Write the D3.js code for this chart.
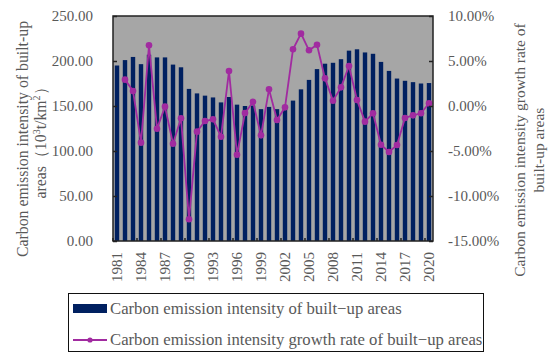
<!DOCTYPE html>
<html>
<head>
<meta charset="utf-8">
<script src="https://cdn.jsdelivr.net/npm/d3@7"></script>
<style>
    body { margin: 0; background: #fff; }
    text { font-family: "Liberation Serif", "Times New Roman", serif; fill: #595959; }
</style>
</head>
<body>
<div id="chart"></div>
<script>
const years = ["1981", "1982", "1983", "1984", "1985", "1986", "1987", "1988", "1989", "1990",
    "1991", "1992", "1993", "1994", "1995", "1996", "1997", "1998", "1999", "2000",
    "2001", "2002", "2003", "2004", "2005", "2006", "2007", "2008", "2009", "2010",
    "2011", "2012", "2013", "2014", "2015", "2016", "2017", "2018", "2019", "2020"];

// carbon emission intensity (10^3 t/km2)
const intensity = [195, 201, 204.5, 196.5, 207, 204, 204, 196, 193, 169,
    164, 161.5, 159.5, 154, 160, 151.5, 150, 150.5, 146.5, 149,
    146.5, 150, 156, 168.5, 179, 191, 197, 198, 202, 211.5,
    213, 209.5, 208, 199, 189, 180.5, 178, 176.5, 175, 175.5];

// growth rate (%), no value for the first year
const growth = [null, 2.93, 1.67, -4.07, 6.74, -2.52, -0.07, -4.19, -1.37, -12.59,
    -2.85, -1.67, -1.48, -3.41, 3.89, -5.41, -0.78, 0.46, -3.26, 1.85,
    -1.56, -0.15, 6.30, 8.04, 6.19, 6.81, 3.07, 0.59, 2.07, 4.44,
    0.67, -1.74, -0.81, -4.30, -5.11, -4.33, -1.33, -1.04, -0.81, 0.30];

const xTickYears = ["1981", "1984", "1987", "1990", "1993", "1996", "1999",
    "2002", "2005", "2008", "2011", "2014", "2017", "2020"];
const leftTicks = [0, 50, 100, 150, 200, 250];
const rightTicks = [-15, -10, -5, 0, 5, 10];

const barColor = "#002060";
const lineColor = "#a12ba0";

const margin = { top: 16, right: 117, bottom: 121, left: 113 };
const width = 550 - margin.left - margin.right;
const height = 362 - margin.top - margin.bottom;

const root = d3.select("#chart")
    .append("svg")
    .attr("width", 550)
    .attr("height", 362);

const svg = root.append("g")
    .attr("transform", `translate(${margin.left},${margin.top})`);

const x = d3.scaleBand()
    .domain(years)
    .range([0, width])
    .paddingInner(0.45)
    .paddingOuter(0.225);

const y = d3.scaleLinear().domain([0, 250]).range([height, 0]);
const y2 = d3.scaleLinear().domain([-15, 10]).range([height, 0]);

svg.append("rect")
    .attr("width", width)
    .attr("height", height)
    .attr("fill", "#a6a6a6");

svg.selectAll(".bar")
    .data(years)
    .enter()
    .append("rect")
    .attr("class", "bar")
    .attr("x", d => x(d))
    .attr("y", (d, i) => y(intensity[i]))
    .attr("width", x.bandwidth())
    .attr("height", (d, i) => height - y(intensity[i]))
    .attr("fill", barColor);

const pts = years.map((d, i) => ({ year: d, v: growth[i] })).filter(d => d.v !== null);

const line = d3.line()
    .x(d => x(d.year) + x.bandwidth() / 2)
    .y(d => y2(d.v));

svg.append("path")
    .datum(pts)
    .attr("d", line)
    .attr("fill", "none")
    .attr("stroke", lineColor)
    .attr("stroke-width", 1.8);

svg.selectAll(".dot")
    .data(pts)
    .enter()
    .append("circle")
    .attr("class", "dot")
    .attr("cx", d => x(d.year) + x.bandwidth() / 2)
    .attr("cy", d => y2(d.v))
    .attr("r", 3.3)
    .attr("fill", lineColor);

// left axis, ticks inside
const yAxis = svg.append("g")
    .call(d3.axisRight(y).tickValues(leftTicks).tickSize(4).tickFormat(""));
yAxis.selectAll("text").remove();
svg.selectAll(".ytl")
    .data(leftTicks)
    .enter()
    .append("text")
    .attr("class", "ytl")
    .attr("x", -20)
    .attr("y", d => y(d))
    .attr("dy", "0.35em")
    .attr("text-anchor", "end")
    .style("font-size", "15px")
    .text(d => d.toFixed(2));

// right axis, ticks inside
svg.append("g")
    .attr("transform", `translate(${width},0)`)
    .call(d3.axisLeft(y2).tickValues(rightTicks).tickSize(4).tickFormat(""));
svg.selectAll(".y2tl")
    .data(rightTicks)
    .enter()
    .append("text")
    .attr("class", "y2tl")
    .attr("x", width + 15)
    .attr("y", d => y2(d))
    .attr("dy", "0.35em")
    .attr("text-anchor", "start")
    .style("font-size", "15px")
    .text(d => d.toFixed(2) + "%");

// bottom ticks every third category boundary
const step = x.step();
const boundaries = d3.range(0, years.length, 3);
svg.selectAll(".xtick")
    .data(boundaries)
    .enter()
    .append("line")
    .attr("class", "xtick")
    .attr("x1", d => d * step)
    .attr("x2", d => d * step)
    .attr("y1", height)
    .attr("y2", height - 3)
    .attr("stroke", "#222")
    .attr("stroke-width", 1.5);

svg.selectAll(".xtl")
    .data(xTickYears)
    .enter()
    .append("text")
    .attr("class", "xtl")
    .attr("transform", d => `translate(${x(d) + x.bandwidth() / 2},${height + 11}) rotate(-90)`)
    .attr("dy", "0.35em")
    .attr("text-anchor", "end")
    .style("font-size", "15px")
    .text(d => d);

svg.selectAll(".domain, .tick line")
    .attr("stroke", "#222")
    .attr("stroke-width", 1.5);
svg.selectAll(".domain").remove();

// frame
svg.append("rect")
    .attr("width", width)
    .attr("height", height)
    .attr("fill", "none")
    .attr("stroke", "#222")
    .attr("stroke-width", 1.5);

// axis titles
const leftTitle = root.append("text")
    .attr("transform", "translate(0,139) rotate(-90)")
    .attr("text-anchor", "middle")
    .style("font-size", "15.8px");
leftTitle.append("tspan").attr("x", 0).attr("y", 28).text("Carbon emission intensity of built-up");
leftTitle.append("tspan").attr("x", 0).attr("y", 46).text("areas（10")
    .append("tspan").style("font-size", "10px").attr("dy", -6).text("3");
leftTitle.append("tspan").attr("dy", 6).text("t/km")
    .append("tspan").style("font-size", "10px").attr("dy", -6).text("2");
leftTitle.append("tspan").attr("dy", 6).text("）");

const rightTitle = root.append("text")
    .attr("transform", "translate(0,150) rotate(-90)")
    .attr("text-anchor", "middle")
    .style("font-size", "15.5px");
rightTitle.append("tspan").attr("x", 0).attr("y", 525).text("Carbon emission intensity growth rate of");
rightTitle.append("tspan").attr("x", 0).attr("y", 544).text("built-up areas");

// legend
const legend = root.append("g");
legend.append("rect")
    .attr("x", 68.5)
    .attr("y", 293.5)
    .attr("width", 415)
    .attr("height", 58)
    .attr("fill", "#fff")
    .attr("stroke", "#111")
    .attr("stroke-width", 1);
legend.append("rect")
    .attr("x", 73)
    .attr("y", 304)
    .attr("width", 34)
    .attr("height", 9)
    .attr("fill", barColor);
legend.append("text")
    .attr("x", 110)
    .attr("y", 314)
    .style("font-size", "16.7px")
    .text("Carbon emission intensity of built\u2212up areas");
legend.append("line")
    .attr("x1", 73)
    .attr("x2", 107)
    .attr("y1", 340)
    .attr("y2", 340)
    .attr("stroke", lineColor)
    .attr("stroke-width", 1.8);
legend.append("circle")
    .attr("cx", 90)
    .attr("cy", 340)
    .attr("r", 2.6)
    .attr("fill", lineColor);
legend.append("text")
    .attr("x", 110)
    .attr("y", 345)
    .style("font-size", "16.7px")
    .text("Carbon emission intensity growth rate of built\u2212up areas");
</script>
</body>
</html>
